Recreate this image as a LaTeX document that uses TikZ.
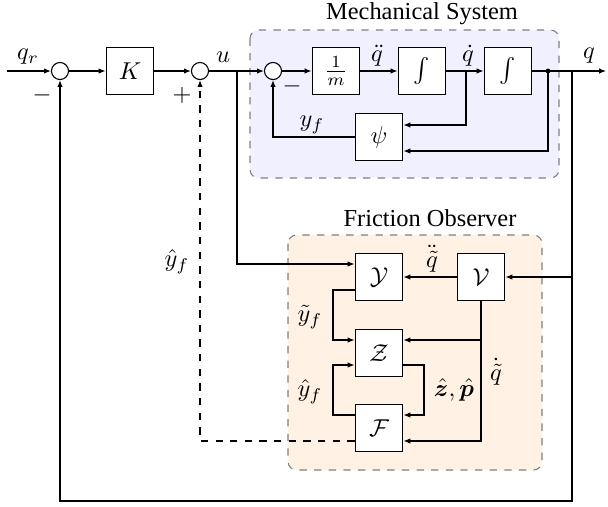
\documentclass[tikz,border=0pt]{standalone}
\usepackage{bm}
\usepackage[no-math]{fontspec}
\setmainfont{Liberation Serif}
\usetikzlibrary{arrows.meta,calc}
\begin{document}
\begin{tikzpicture}[x=0.41pt,y=-0.41pt,
  arr/.style={-{Latex[length=2.8pt,width=2.2pt]}, line width=0.45pt},
  ln/.style={line width=0.45pt},
  blk/.style={draw, line width=0.45pt, fill=white, minimum size=19.6pt, inner sep=0pt},
  sumc/.style={draw, circle, line width=0.45pt, fill=white, minimum size=7pt, inner sep=0pt},
  grp/.style={draw=gray, dashed, line width=0.45pt, rounded corners=3.5pt},
  lbl/.style={inner sep=0pt}]
\useasboundingbox (0,0) rectangle (608,506);
% groups
\draw[grp, fill=blue!6] (250,30) rectangle (559,178);
\draw[grp, fill=orange!10] (288,235) rectangle (542,470);
\node[lbl] (mt) at (422,14) {Mechanical System};
\node[lbl] (ot) at (430,218) {Friction Observer};
% nodes
\node[sumc] (s1) at (60,71) {};
\node[sumc] (s2) at (200,71) {};
\node[sumc] (s3) at (273,71) {};
\node[blk] (K) at (130,71) {$K$};
\node[blk] (m) at (336,71) {$\frac{1}{m}$};
\node[blk] (i1) at (422,71) {$\int$};
\node[blk] (i2) at (508,71) {$\int$};
\node[blk] (psi) at (379,137) {$\psi$};
\node[blk] (Y) at (379,277) {$\mathcal{Y}$};
\node[blk] (V) at (481,277) {$\mathcal{V}$};
\node[blk] (Z) at (379,353) {$\mathcal{Z}$};
\node[blk] (F) at (379,428) {$\mathcal{F}$};
\coordinate (in) at (7,71);
\coordinate (out) at (606,71);
\coordinate (ub) at (237,71);
\coordinate (qb) at (572,71);
\coordinate (qd) at (466,71);
\coordinate (dt) at (548,71);
\coordinate (bl) at (572,501);
% forward path
\draw[arr] (in) -- (s1);
\draw[arr] (s1) -- (K);
\draw[arr] (K) -- (s2);
\draw[arr] (s2) -- (s3);
\draw[arr] (s3) -- (m);
\draw[arr] (m) -- (i1);
\draw[arr] (i1) -- (i2);
\draw[arr] (i2) -- (out);
% mech feedback
\draw[arr] (qd) |- ($(psi.east)+(0,-12)$);
\draw[arr] (dt) |- ($(psi.east)+(0,14)$);
\draw[arr] (psi.west) -| (s3.south);
\fill (dt) circle (2.4);
% outer feedback
\draw[arr] (qb) -- (bl) -| (s1.south);
\draw[arr] (qb) |- (V.east);
% observer
\draw[arr] (ub) |- ($(Y.west)+(0,-13)$);
\draw[arr] (V.west) -- (Y.east);
\draw[arr] (V.south) |- ($(Z.east)+(0,-13)$);
\draw[arr] (V.south) |- ($(F.east)+(0,13)$);
\draw[arr] ($(Y.west)+(0,13)$) -- (333,290) |- ($(Z.west)+(0,-13)$);
\draw[arr] ($(F.west)+(0,-13)$) -- (333,415) |- ($(Z.west)+(0,12)$);
\draw[arr] ($(Z.east)+(0,12)$) -- (424,365) |- ($(F.east)+(0,-13)$);
\draw[arr, dashed] ($(F.west)+(0,13)$) -| (s2.south);
% labels
\node[lbl] (lqr) at (28,57) {$q_r$};
\node[lbl] (lm1) at (42,95) {$-$};
\node[lbl] (lp) at (182,95) {$+$};
\node[lbl] (lu) at (223,57) {$u$};
\node[lbl] (lm3) at (292,86) {$-$};
\node[lbl] (lqdd) at (377,56) {$\ddot q$};
\node[lbl] (lqd) at (468,56) {$\dot q$};
\node[lbl] (lq) at (589,56) {$q$};
\node[lbl] (lyf) at (312,125) {$y_f$};
\node[lbl] (lhyf) at (177,262) {$\hat y_f$};
\node[lbl] (lqtdd) at (432,259) {$\ddot{\tilde q}$};
\node[lbl] (ltyf) at (310,317) {$\tilde y_f$};
\node[lbl] (lhyf2) at (310,392) {$\hat y_f$};
\node[lbl] (lzp) at (454,390) {$\hat{\bm z},\hat{\bm p}$};
\node[lbl] (lqtd) at (496,372) {$\dot{\tilde q}$};
\end{tikzpicture}
\end{document}
